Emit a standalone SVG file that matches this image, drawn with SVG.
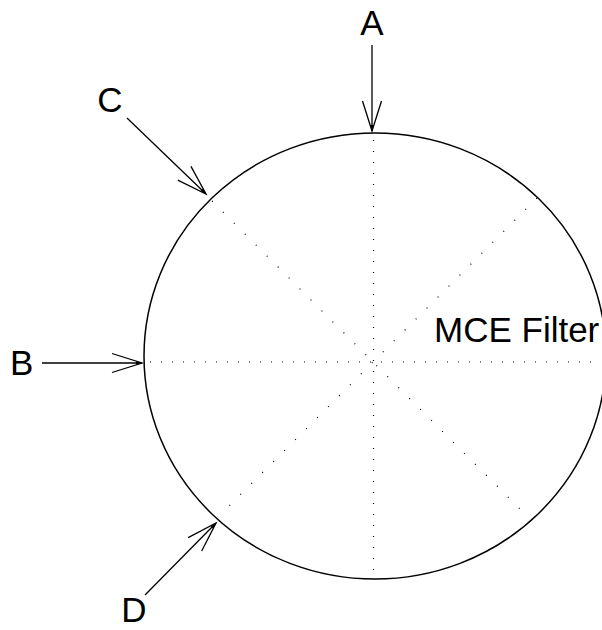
<svg xmlns="http://www.w3.org/2000/svg" width="602" height="630" viewBox="0 0 602 630">
<style>
.lbl{font-family:"Liberation Sans",Arial,sans-serif;font-size:35px;fill:#000}
.dot{stroke:#000;stroke-width:1.2;fill:none}
.arr{stroke:#000;stroke-width:1.3;fill:none;marker-end:url(#v)}
</style>
<defs>
<marker id="v" markerUnits="userSpaceOnUse" orient="auto" overflow="visible" markerWidth="1" markerHeight="1" refX="0" refY="0">
<path d="M-30,-9.5 L0,0 L-30,9.5" fill="none" stroke="#000" stroke-width="1.3"/>
<path d="M-6,-1.5 L0,0 L-6,1.5 Z" fill="#000"/>
</marker>
</defs>
<rect width="602" height="630" fill="#fff"/>
<g id="filter">
<ellipse cx="375" cy="356" rx="231" ry="223" fill="none" stroke="#000" stroke-width="1.5"/>
<g class="dot">
<line x1="373.5" y1="140" x2="373.5" y2="578" stroke-dasharray="1 10"/>
<line x1="150" y1="362" x2="600" y2="362" stroke-dasharray="1 10"/>
<line x1="212" y1="201" x2="528" y2="517" stroke-dasharray="1 14.5"/>
<line x1="537" y1="198" x2="220" y2="515" stroke-dasharray="1 14.5"/>
</g>
<text class="lbl" x="434" y="342">MCE Filter</text>
</g>
<g id="connectors">
<line class="arr" x1="372" y1="45" x2="372" y2="131"/>
<line class="arr" x1="127" y1="118" x2="206" y2="194"/>
<line class="arr" x1="42" y1="363" x2="142" y2="363"/>
<line class="arr" x1="145" y1="595" x2="216" y2="523"/>
</g>
<g id="label-A"><text class="lbl" x="372" y="35" text-anchor="middle">A</text></g>
<g id="label-C"><text class="lbl" x="110" y="112" text-anchor="middle">C</text></g>
<g id="label-B"><text class="lbl" x="10" y="375">B</text></g>
<g id="label-D"><text class="lbl" x="134" y="622" text-anchor="middle">D</text></g>
</svg>
